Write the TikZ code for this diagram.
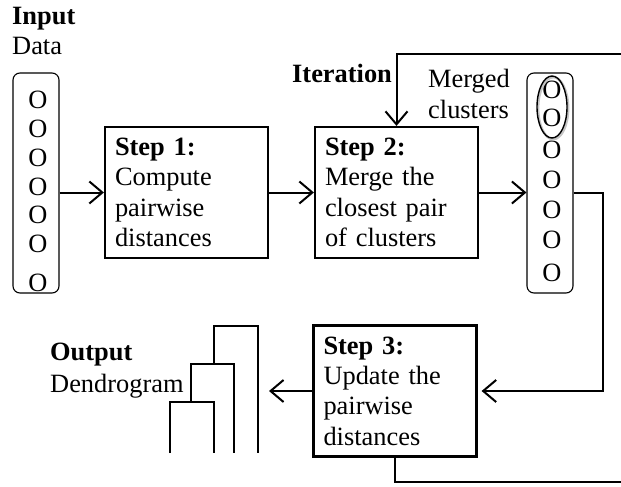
\documentclass[tikz,border=0pt]{standalone}
\usepackage{fontspec}
\setmainfont{Liberation Serif}
\usetikzlibrary{arrows.meta}
\begin{document}
\begin{tikzpicture}[x=1pt,y=-1pt,
  every node/.style={font=\fontsize{26.4}{30.4}\selectfont, inner sep=0pt},
  stepbox/.style={draw, line width=2.2pt, minimum width=163pt, minimum height=131pt,
    text width=143pt, inner xsep=10pt, align=left},
  colbox/.style={draw, line width=1.1pt, rounded corners=7pt, minimum width=46pt, minimum height=220pt},
  label/.style={anchor=base west},
  arr/.style={line width=2pt, -{Straight Barb[length=13pt,width=22pt,line width=2pt]}},
  link/.style={line width=2pt},
  dendro/.style={line width=1.6pt}
]
\useasboundingbox (0,0) rectangle (621,487);

% input column
\node[label] (inlbl) at (12,25) {\textbf{Input}};
\node[label] (datalbl) at (12,55) {Data};
\node[colbox] (in) at (36,183) {};
\foreach \y [count=\i] in {100,129,158,187,215,244,283}
  \node (in\i) at (38,\y) {O};

% processing steps
\node[stepbox] (s1) at (186.5,192.5) {\textbf{Step 1:}\\Compute\\pairwise\\distances};
\node[stepbox] (s2) at (396.5,192.5) {\textbf{Step 2:}\\Merge the\\closest pair\\of clusters};
\node[stepbox] (s3) at (395,391) {\textbf{Step 3:}\\Update the\\pairwise\\distances};

% merged cluster column
\node[label] (itlbl) at (292,82) {\textbf{Iteration}};
\node[label] (mlbl) at (428,88) {Merged};
\node[label] (clbl) at (428,118) {clusters};
\node[colbox] (cl) at (550,183) {};
\foreach \y [count=\i] in {90,118,150,180,210,240,273}
  \node (cl\i) at (552,\y) {O};
\draw[gray!45, line width=2.4pt] (553.2,108.2) ellipse [x radius=15pt, y radius=31pt];
\draw[line width=1.4pt] (552,107) ellipse [x radius=15pt, y radius=31pt];

% output
\node[label] (outlbl) at (50,360) {\textbf{Output}};
\node[label] (dglbl) at (50,392) {Dendrogram};
\draw[dendro] (170,453) |- (214,402) -- (214,453);
\draw[dendro] (191,402) |- (234,364) -- (234,453);
\draw[dendro] (214,364) |- (258,326) -- (258,453);

% connectors
\coordinate (rt) at (603,0);
\coordinate (top) at (621,54);
\coordinate (bot) at (621,482);
\coordinate (dg) at (269,391);
\draw[arr] (s1.west -| in.east) -- (s1.west);
\draw[arr] (s1.east) -- (s2.west);
\draw[arr] (s2.east) -- (s2.east -| cl.west);
\draw[arr] (top) -| (s2.north);
\draw[arr, shorten >=4pt] (s2.east -| cl.east) -- (s2.east -| rt) -- (s3.east -| rt) -- (s3.east);
\draw[link] (s3.south) |- (bot);
\draw[arr] (s3.west) -- (dg);
\end{tikzpicture}
\end{document}
